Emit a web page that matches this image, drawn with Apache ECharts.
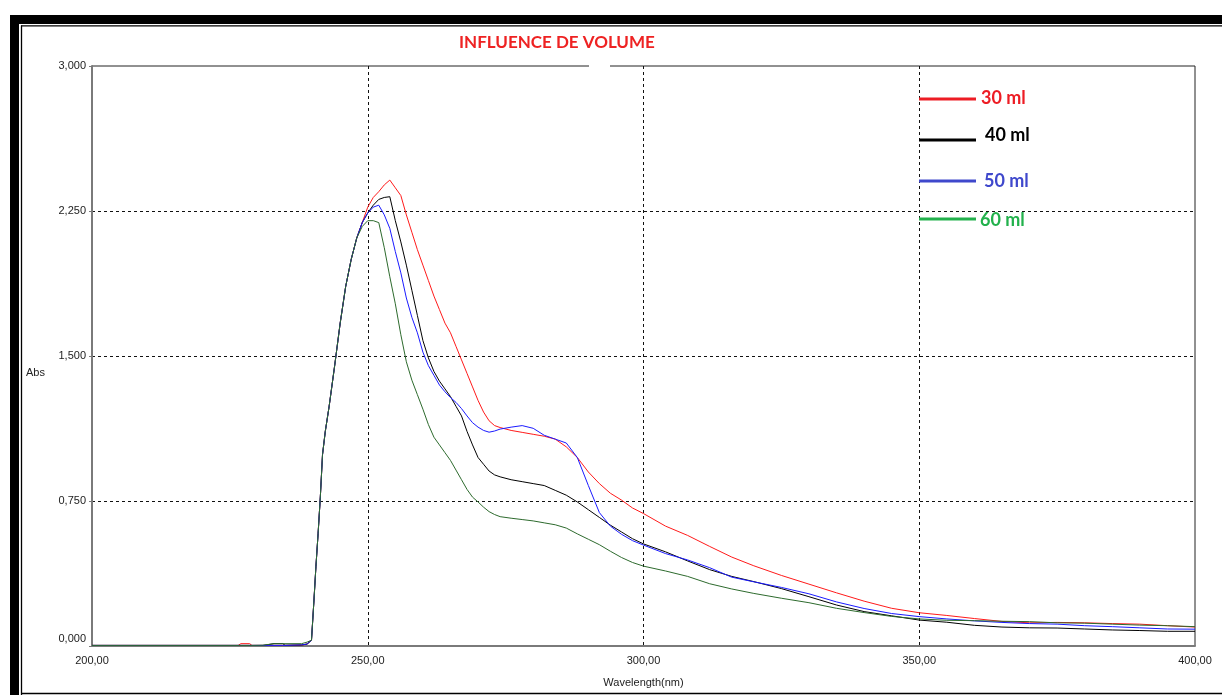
<!DOCTYPE html>
<html>
<head>
<meta charset="utf-8">
<script src="https://cdn.jsdelivr.net/npm/echarts@6/dist/echarts.min.js"></script>
<style>
  html, body { margin: 0; padding: 0; background: #fff; }
  #chart { width: 1222px; height: 695px; }
</style>
</head>
<body>
<div id="chart"></div>
<script>
// Wavelength grid (nm), shared by all four absorbance spectra
const wavelengths = [200, 226.5, 227, 228.6, 229, 231, 233, 234.6, 235, 238, 239,
  239.8, 240.25, 240.6, 241, 241.4, 241.8, 242.3, 243, 244, 245, 246, 247, 248, 249,
  250, 251, 252, 253, 254, 255, 256, 257, 258, 259,
  260, 261, 262, 263, 264, 265, 266, 267, 268, 269,
  270, 271, 272, 273, 274,
  276, 278, 280, 282, 284, 286, 288, 290, 292, 294, 296, 298, 300,
  304, 308, 312, 316, 320,
  325, 330, 335, 340, 345, 350, 355, 360, 365, 370, 375, 380, 385, 390, 395, 400];

// Absorbance for each extraction volume
const abs30 = [0.003, 0.003, 0.012, 0.012, 0.003, 0.003, 0.003, 0.003, 0.003, 0.005, 0.01,
  0.03, 0.238, 0.41, 0.583, 0.77, 0.99, 1.11, 1.24, 1.45, 1.67, 1.86, 2.0, 2.11, 2.19,
  2.27, 2.32, 2.35, 2.385, 2.41, 2.37, 2.33, 2.23, 2.14, 2.05,
  1.97, 1.89, 1.81, 1.74, 1.67, 1.62, 1.55, 1.48, 1.41, 1.34,
  1.27, 1.21, 1.165, 1.14, 1.13,
  1.115, 1.105, 1.095, 1.085, 1.07, 1.03, 0.975, 0.90, 0.84, 0.79, 0.755, 0.714, 0.685,
  0.62, 0.572, 0.515, 0.46, 0.415,
  0.365, 0.32, 0.275, 0.232, 0.195, 0.172, 0.158, 0.142, 0.127, 0.12, 0.122, 0.12, 0.116, 0.113, 0.105, 0.098];

const abs40 = [0.003, 0.003, 0.003, 0.003, 0.003, 0.003, 0.012, 0.012, 0.004, 0.005, 0.01,
  0.03, 0.238, 0.41, 0.583, 0.77, 0.99, 1.11, 1.24, 1.45, 1.67, 1.86, 2.0, 2.11, 2.19,
  2.24, 2.28, 2.31, 2.32, 2.324, 2.2, 2.09, 1.97, 1.84, 1.71,
  1.58, 1.49, 1.42, 1.37, 1.33, 1.29, 1.24, 1.19, 1.11, 1.04,
  0.975, 0.94, 0.905, 0.885, 0.875,
  0.86, 0.85, 0.84, 0.83, 0.805, 0.78, 0.745, 0.705, 0.665, 0.625, 0.59, 0.555, 0.528,
  0.487, 0.44, 0.395, 0.36, 0.333,
  0.297, 0.255, 0.212, 0.178, 0.156, 0.134, 0.123, 0.107, 0.098, 0.094, 0.093, 0.088, 0.083, 0.08, 0.076, 0.076];

const abs50 = [0.003, 0.003, 0.003, 0.003, 0.003, 0.003, 0.003, 0.003, 0.003, 0.006, 0.01,
  0.03, 0.238, 0.41, 0.583, 0.77, 0.99, 1.11, 1.24, 1.45, 1.67, 1.86, 2.0, 2.11, 2.19,
  2.24, 2.27, 2.28, 2.23, 2.16, 2.04, 1.93, 1.80, 1.70, 1.62,
  1.52, 1.45, 1.40, 1.35, 1.315, 1.285, 1.26, 1.228, 1.19, 1.155,
  1.132, 1.115, 1.106, 1.112, 1.122,
  1.132, 1.14, 1.126, 1.09, 1.07, 1.05, 0.975, 0.83, 0.69, 0.62, 0.578, 0.545, 0.522,
  0.478, 0.445, 0.405, 0.356, 0.332,
  0.303, 0.27, 0.228, 0.194, 0.168, 0.152, 0.14, 0.13, 0.122, 0.116, 0.113, 0.105, 0.1, 0.094, 0.088, 0.087];

const abs60 = [0.003, 0.003, 0.003, 0.003, 0.003, 0.004, 0.012, 0.012, 0.012, 0.012, 0.02,
  0.03, 0.238, 0.41, 0.583, 0.77, 0.99, 1.11, 1.24, 1.45, 1.67, 1.86, 2.0, 2.11, 2.17,
  2.20, 2.2, 2.19, 2.06, 1.91, 1.77, 1.61, 1.47, 1.375, 1.30,
  1.225, 1.145, 1.08, 1.04, 1.0, 0.96, 0.91, 0.86, 0.81, 0.77,
  0.745, 0.718, 0.695, 0.68, 0.669,
  0.661, 0.654, 0.647, 0.637, 0.627, 0.61, 0.58, 0.552, 0.524, 0.49, 0.458, 0.432, 0.413,
  0.388, 0.36, 0.322, 0.295, 0.272,
  0.247, 0.224, 0.195, 0.173, 0.153, 0.14, 0.133, 0.131, 0.128, 0.126, 0.12, 0.118, 0.113, 0.108, 0.105, 0.10];

const volumeLabels = ['30 ml', '40 ml', '50 ml', '60 ml'];
const spectra = [abs30, abs40, abs50, abs60];
const lineColors = ['#ff1a1a', '#000000', '#1a1aff', '#2d6a2d'];
const keyColors = ['#ed1c24', '#000000', '#3f48cc', '#22b14c'];

const fmtComma = (v, d) => v.toFixed(d).replace('.', ',');

const chart = echarts.init(document.getElementById('chart'), null, { renderer: 'canvas' });

const series = spectra.map((vals, i) => ({
  name: volumeLabels[i],
  type: 'line',
  data: wavelengths.map((w, k) => [w, vals[k]]),
  showSymbol: false,
  symbol: 'none',
  lineStyle: { color: lineColors[i], width: 1 },
  itemStyle: { color: lineColors[i] },
  z: 3 + i,
  animation: false
}));

// Hand-placed key on the right side of the plot
const keyY = [99, 140, 181, 219];
const keyTextX = [981, 985, 984, 980];
const keyTextY = [98, 135, 181, 220];
const keyGraphics = [];
volumeLabels.forEach((lab, i) => {
  keyGraphics.push({
    type: 'line', z: 50,
    shape: { x1: 919, y1: keyY[i], x2: 976, y2: keyY[i] },
    style: { stroke: keyColors[i], lineWidth: 3 }
  });
  keyGraphics.push({
    type: 'text', z: 50,
    x: keyTextX[i], y: keyTextY[i],
    style: {
      text: lab, fill: keyColors[i],
      font: 'bold 18px Lato, "Open Sans", sans-serif',
      textAlign: 'left', textVerticalAlign: 'middle'
    }
  });
});

chart.setOption({
  animation: false,
  backgroundColor: '#ffffff',
  title: {
    text: 'INFLUENCE DE VOLUME',
    left: 454, top: 29,
    textStyle: { fontFamily: 'Lato', fontWeight: 'bold', fontSize: 17, color: '#ee2222' }
  },
  grid: {
    left: 92, top: 66, right: 27, bottom: 49,
    show: true, borderColor: '#222', borderWidth: 1, backgroundColor: 'transparent'
  },
  xAxis: {
    type: 'value', min: 200, max: 400, interval: 50,
    name: 'Wavelength(nm)', nameLocation: 'middle', nameGap: 31,
    nameTextStyle: { fontFamily: 'Liberation Sans', fontSize: 11, color: '#222' },
    axisLine: { show: true, onZero: false, lineStyle: { color: '#7a7a7a', width: 2 } },
    axisTick: { show: false },
    axisLabel: {
      margin: 9, fontFamily: 'Liberation Sans', fontSize: 11, color: '#222',
      formatter: v => fmtComma(v, 2)
    },
    splitLine: {
      show: true, showMinLine: false, showMaxLine: false,
      lineStyle: { color: '#111', type: [3, 3], width: 1 }
    }
  },
  yAxis: {
    type: 'value', min: 0, max: 3, interval: 0.75,
    axisLine: { show: true, lineStyle: { color: '#7a7a7a', width: 2 } },
    axisTick: { show: true, length: 3, lineStyle: { color: '#7a7a7a' } },
    axisLabel: {
      margin: 6, fontFamily: 'Liberation Sans', fontSize: 11, color: '#222',
      formatter: v => (v === 0 ? '{z|' + fmtComma(v, 3) + '}' : fmtComma(v, 3)),
      rich: { z: { padding: [0, 0, 14, 0], fontFamily: 'Liberation Sans', fontSize: 11, color: '#222' } }
    },
    splitLine: {
      show: true, showMinLine: false, showMaxLine: false,
      lineStyle: { color: '#111', type: [3, 3], width: 1 }
    }
  },
  series: series,
  graphic: [
    // window frame
    { type: 'rect', z: 40, shape: { x: 10, y: 15, width: 9, height: 680 }, style: { fill: '#000' } },
    { type: 'rect', z: 40, shape: { x: 10, y: 15, width: 1212, height: 9 }, style: { fill: '#000' } },
    { type: 'line', z: 40, shape: { x1: 21.5, y1: 25.5, x2: 21.5, y2: 695 }, style: { stroke: '#000', lineWidth: 1.3 } },
    { type: 'line', z: 40, shape: { x1: 21, y1: 25.8, x2: 1222, y2: 25.8 }, style: { stroke: '#000', lineWidth: 1.3 } },
    { type: 'line', z: 40, shape: { x1: 21, y1: 693.5, x2: 1222, y2: 693.5 }, style: { stroke: '#000', lineWidth: 1.3 } },
    // small break in the top border
    { type: 'rect', z: 40, shape: { x: 589, y: 63, width: 21, height: 6 }, style: { fill: '#fff' } },
    // y-axis title
    {
      type: 'text', z: 40, x: 26, y: 373,
      style: { text: 'Abs', fill: '#222', font: '11px "Liberation Sans", sans-serif', textAlign: 'left', textVerticalAlign: 'middle' }
    }
  ].concat(keyGraphics)
});
</script>
</body>
</html>
